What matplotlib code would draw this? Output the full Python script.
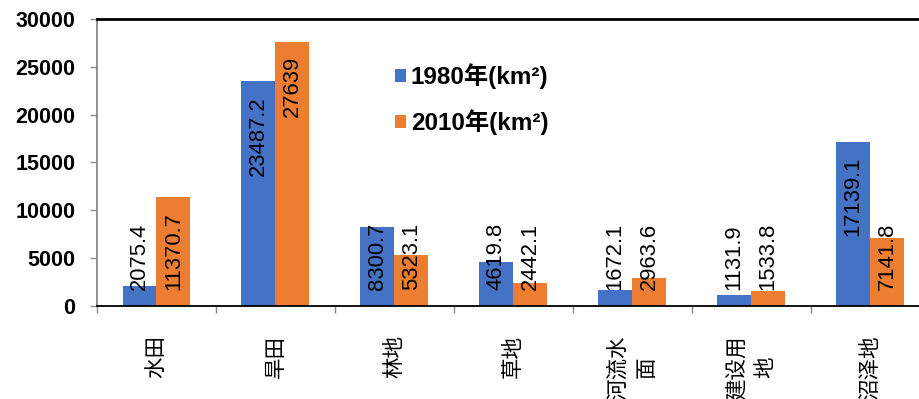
import matplotlib
matplotlib.use("Agg")
import matplotlib.pyplot as plt
import numpy as np

plt.rcParams['font.family'] = ['Liberation Sans', 'Noto Sans CJK SC', 'DejaVu Sans']

categories = ['水田', '旱田', '林地', '草地', '河流水\n面', '建设用\n地', '沼泽地']
area_1980 = [2075.4, 23487.2, 8300.7, 4619.8, 1672.1, 1131.9, 17139.1]
area_2010 = [11370.7, 27639, 5323.1, 2442.1, 2963.6, 1533.8, 7141.8]
series_names = ['1980年(km²)', '2010年(km²)']
yticks = [0, 5000, 10000, 15000, 20000, 25000, 30000]

blue = '#4472C4'
orange = '#ED7D31'

W, H = 920, 399
fig = plt.figure(figsize=(W / 100, H / 100), dpi=100)
left_px, right_px, top_px, bottom_px = 97, 929.5, 19, 306
ax = fig.add_axes([left_px / W, (H - bottom_px) / H,
                   (right_px - left_px) / W, (bottom_px - top_px) / H])

x = np.arange(len(categories))
bw = 0.285
b1 = ax.bar(x - bw / 2, area_1980, bw, color=blue, label=series_names[0], zorder=2)
b2 = ax.bar(x + bw / 2, area_2010, bw, color=orange, label=series_names[1], zorder=2)

ax.set_xlim(-0.5, len(categories) - 0.5)
ax.set_ylim(0, 30000)
ax.set_yticks(yticks)
ax.set_yticklabels([str(v) for v in yticks], fontsize=15.5, fontweight='bold')

# category labels at centres, tick marks at group boundaries
ax.set_xticks(x)
ax.set_xticklabels(categories, rotation=90, fontsize=15.5,
                   family=['Noto Sans CJK SC', 'DejaVu Sans'],
                   va='top', ha='center', multialignment='center',
                   linespacing=1.4)
ax.set_xticks(np.arange(len(categories) + 1) - 0.5, minor=True)
ax.tick_params(axis='x', which='major', length=0, pad=21)
ax.tick_params(axis='x', which='minor', length=5, width=1, color='#888888',
               direction='out')
ax.tick_params(axis='y', length=5, width=1, color='#888888', pad=10.5,
               labelcolor='black')

ax.spines['left'].set_color('#888888')
ax.spines['left'].set_linewidth(1.3)
ax.spines['bottom'].set_color('black')
ax.spines['bottom'].set_linewidth(1.3)
ax.spines['top'].set_color('black')
ax.spines['top'].set_linewidth(2.0)
ax.spines['right'].set_visible(False)

# value labels: inside the bar end, pushed up from the base when too long
fig.canvas.draw()
renderer = fig.canvas.get_renderer()
base_y = ax.transData.transform((0, 0))[1]
min_gap_px = 16
for bars, vals in ((b1, area_1980), (b2, area_2010)):
    for rect, v in zip(bars, vals):
        cx = rect.get_x() + rect.get_width() / 2
        label = f'{v:g}'
        t = ax.annotate(label, xy=(cx, v), xytext=(0, -10.5),
                        textcoords='offset points', rotation=90,
                        ha='center', va='top', fontsize=15.8, color='black',
                        zorder=3)
        bb = t.get_window_extent(renderer)
        if bb.y0 < base_y + min_gap_px:
            t.xy = (cx, 0)
            t.set_position((0, min_gap_px * 72 / 100))
            t.set_va('bottom')

leg = ax.legend(loc='upper left', bbox_to_anchor=(395 / W, 1 - 63 / H),
                bbox_transform=fig.transFigure, frameon=False,
                prop={'size': 17.5, 'weight': 'bold'},
                handlelength=0.45, handleheight=0.45, handletextpad=0.2,
                labelspacing=0.85, borderpad=0, borderaxespad=0)

fig.savefig('out.png', dpi=100, facecolor='white')
